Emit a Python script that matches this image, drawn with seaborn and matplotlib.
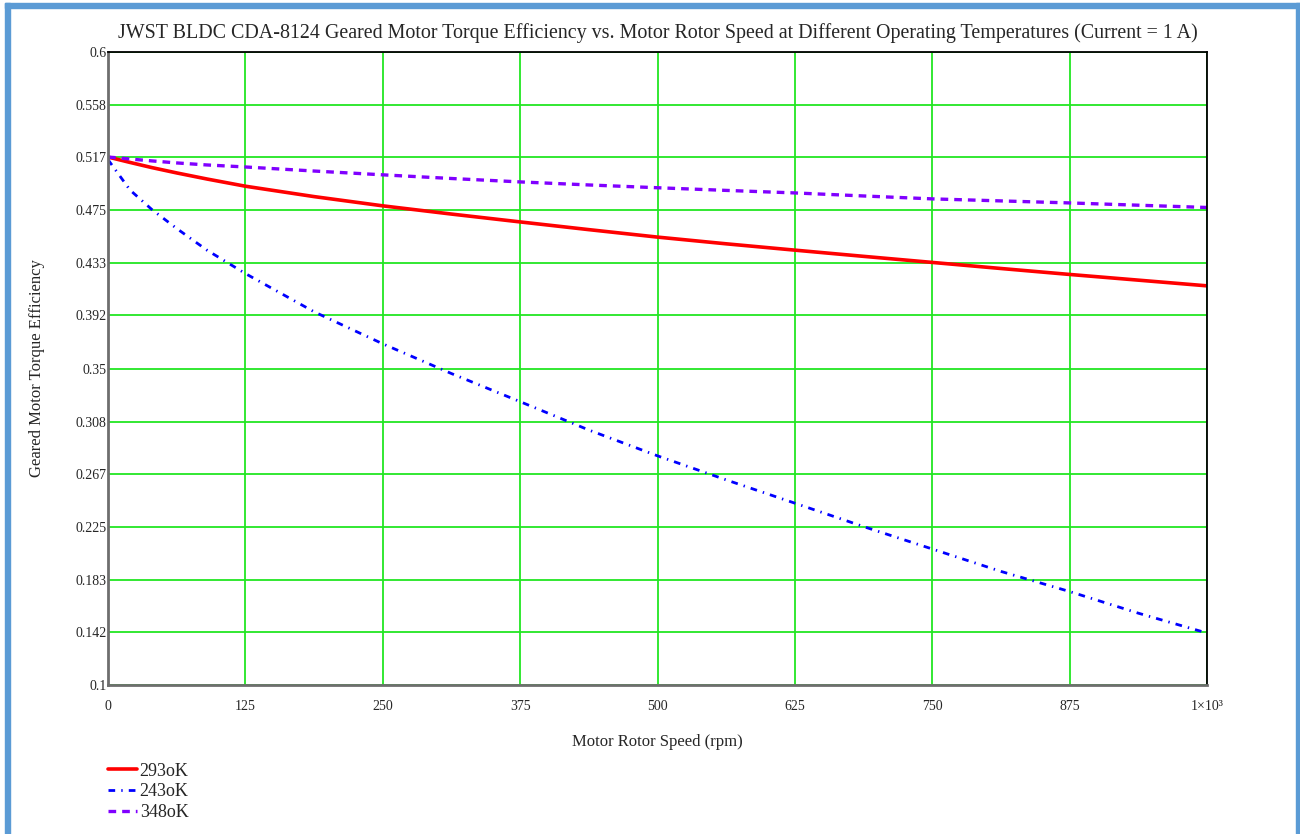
import numpy as np
import pandas as pd
import matplotlib
matplotlib.use("Agg")
import matplotlib.pyplot as plt
import seaborn as sns
from matplotlib.patches import Rectangle

# motor rotor speed (rpm)
speed = [0, 5, 20, 40, 62.5, 90, 125, 187.5, 250, 312.5, 375, 437.5, 500,
         562.5, 625, 687.5, 750, 812.5, 875, 937.5, 1000]

# geared motor torque efficiency
eff_293 = [0.517, 0.516, 0.5128, 0.5087, 0.5045, 0.4997, 0.494, 0.4858, 0.4785, 0.472,
           0.4658, 0.4597, 0.4538, 0.4485, 0.4435, 0.4386, 0.4338, 0.429, 0.4243, 0.4198, 0.4153]
eff_243 = [0.515, 0.509, 0.491, 0.4755, 0.4606, 0.4435, 0.425, 0.3948, 0.3695, 0.346,
           0.3238, 0.3014, 0.281, 0.262, 0.2436, 0.2251, 0.2074, 0.1897, 0.1738, 0.1567, 0.141]
eff_348 = [0.517, 0.5167, 0.5155, 0.514, 0.5124, 0.5108, 0.5092, 0.506, 0.503, 0.5001,
           0.4974, 0.495, 0.4928, 0.4907, 0.4887, 0.4863, 0.484, 0.4824, 0.4808, 0.479, 0.4772]

labels = ["293oK", "243oK", "348oK"]
x_ticks = [0, 125, 250, 375, 500, 625, 750, 875, 1000]
x_tick_labels = ["0", "125", "250", "375", "500", "625", "750", "875", "1×10³"]
y_ticks = [0.1, 0.142, 0.183, 0.225, 0.267, 0.308, 0.35, 0.392, 0.433, 0.475, 0.517, 0.558, 0.6]
y_tick_labels = ["0.1", "0.142", "0.183", "0.225", "0.267", "0.308", "0.35", "0.392",
                 "0.433", "0.475", "0.517", "0.558", "0.6"]

sns.set_style("white")
plt.rcParams['font.family'] = ['Liberation Serif', 'DejaVu Serif']

df = pd.DataFrame({"speed": speed, "293": eff_293, "243": eff_243, "348": eff_348})

fig = plt.figure(figsize=(13, 8.34), dpi=100)
ax = fig.add_axes([0.0831, 0.1787, 0.8454, 0.7589])

sns.lineplot(data=df, x="speed", y="293", ax=ax, color="#ff0000", lw=2.6,
             linestyle="-", label=labels[0])
sns.lineplot(data=df, x="speed", y="243", ax=ax, color="#0000ff", lw=2.0,
             linestyle=(0, (2.4, 2.2, 0.5, 2.2)), label=labels[1])
sns.lineplot(data=df, x="speed", y="348", ax=ax, color="#8000ff", lw=2.4,
             linestyle=(0, (2.3, 1.8)), label=labels[2])

ax.set_xlim(0, 1000)
ax.set_ylim(0.1, 0.6)
ax.set_xticks(x_ticks)
ax.set_xticklabels(x_tick_labels, fontsize=10)
ax.set_yticks(y_ticks)
ax.set_yticklabels(y_tick_labels, fontsize=10)
ax.tick_params(axis="both", length=0)
ax.tick_params(axis="x", pad=11)
ax.tick_params(axis="y", pad=1)
ax.grid(True, color="#22e622", lw=1.3)
ax.set_axisbelow(True)

for side in ["left", "bottom"]:
    ax.spines[side].set_color("#6e6e6e")
    ax.spines[side].set_linewidth(2)
for side in ["top", "right"]:
    ax.spines[side].set_color("black")
    ax.spines[side].set_linewidth(1.3)

ax.set_xlabel("Motor Rotor Speed (rpm)", fontsize=12, labelpad=15)
ax.set_ylabel("Geared Motor Torque Efficiency", fontsize=12, labelpad=22)
ax.set_title("JWST BLDC CDA-8124 Geared Motor Torque Efficiency vs. Motor Rotor Speed at "
             "Different Operating Temperatures (Current = 1 A)", fontsize=14.4, pad=10)

leg = ax.legend(loc="upper left", bbox_to_anchor=(0.0, -0.123), frameon=False,
                fontsize=13, handlelength=1.6, handletextpad=0.15, labelspacing=0.2,
                borderaxespad=0, borderpad=0)

# blue page frame
fc = "#5b9bd5"
fig.patches.append(Rectangle((5 / 1300, 0), 5 / 1300, 1 - 3 / 834, transform=fig.transFigure,
                             color=fc, zorder=0))
fig.patches.append(Rectangle((5 / 1300, 1 - 8 / 834), 1, 5 / 834, transform=fig.transFigure,
                             color=fc, zorder=0))
fig.patches.append(Rectangle((1296 / 1300, 0), 4 / 1300, 1 - 3 / 834, transform=fig.transFigure,
                             color=fc, zorder=0))

fig.savefig("out.png", dpi=100)
plt.close()
